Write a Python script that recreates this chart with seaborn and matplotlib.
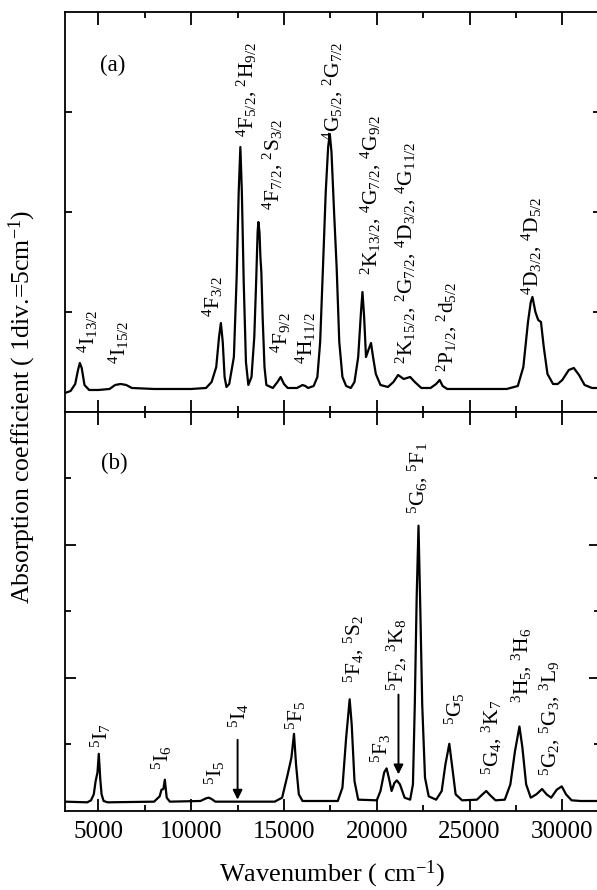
import matplotlib
matplotlib.use('Agg')
import matplotlib.pyplot as plt
import seaborn as sns
from matplotlib.ticker import MultipleLocator, FixedLocator

# spectrum (a): wavenumber (cm-1) and absorption (div.)
wn_a = [3200, 3500, 3750, 3900, 4000, 4100, 4250, 4500, 5000, 5600, 5900, 6200, 6500,
        6800, 8000, 10000, 10800, 11100, 11350, 11500, 11600, 11700, 11800, 11900,
        12050, 12300, 12450, 12560, 12650, 12730, 12830, 12950, 13080, 13250, 13400,
        13500, 13580, 13620, 13680, 13730, 13780, 13850, 13950, 14050, 14400, 14650,
        14820, 15000, 15200, 15700, 16000, 16150, 16300, 16600, 16800, 16950, 17100,
        17250, 17380, 17470, 17560, 17700, 17840, 17980, 18150, 18350, 18600, 18800,
        19000, 19150, 19230, 19320, 19420, 19550, 19690, 19800, 19950, 20200, 20600,
        20900, 21150, 21450, 21800, 22050, 22400, 22900, 23200, 23390, 23550, 23800,
        25000, 27000, 27600, 27900, 28150, 28300, 28390, 28550, 28700, 28850, 29000,
        29200, 29500, 29750, 30000, 30350, 30620, 30900, 31200, 31600, 32030]
abs_a = [0.19, 0.21, 0.28, 0.42, 0.49, 0.44, 0.27, 0.22, 0.22, 0.23, 0.27, 0.28, 0.27,
         0.24, 0.23, 0.23, 0.24, 0.30, 0.45, 0.75, 0.89, 0.70, 0.35, 0.25,
         0.28, 0.55, 1.35, 2.20, 2.65, 2.20, 1.30, 0.50, 0.27, 0.35, 0.75,
         1.30, 1.80, 1.90, 1.80, 1.55, 1.40, 0.95, 0.45, 0.27, 0.24, 0.30,
         0.35, 0.28, 0.24, 0.24, 0.27, 0.26, 0.24, 0.26, 0.35, 0.70, 1.44,
         2.20, 2.65, 2.78, 2.60, 2.00, 1.44, 0.70, 0.35, 0.26, 0.24, 0.30,
         0.55, 1.00, 1.20, 0.95, 0.55, 0.62, 0.69, 0.55, 0.38, 0.27, 0.25,
         0.30, 0.37, 0.33, 0.35, 0.30, 0.24, 0.24, 0.28, 0.32, 0.26, 0.23,
         0.23, 0.23, 0.26, 0.45, 0.90, 1.10, 1.15, 1.00, 0.92, 0.90, 0.65,
         0.38, 0.28, 0.28, 0.32, 0.42, 0.44, 0.37, 0.27, 0.24, 0.24]

# spectrum (b)
wn_b = [3200, 4400, 4600, 4750, 4850, 4950, 5020, 5100, 5170, 5280, 5500, 8000, 8300,
        8400, 8500, 8580, 8680, 8850, 10500, 10800, 10950, 11100, 11300, 14500, 14900,
        15200, 15400, 15540, 15650, 15800, 16000, 17900, 18150, 18350, 18540, 18650,
        18800, 19000, 20000, 20200, 20400, 20530, 20650, 20800, 20950, 21080, 21250,
        21500, 21800, 21950, 22050, 22150, 22250, 22350, 22450, 22600, 22800, 23200,
        23500, 23700, 23910, 24050, 24250, 24600, 25400, 25700, 25900, 26100, 26400,
        26900, 27200, 27450, 27690, 27850, 28050, 28300, 28600, 28910, 29150, 29400,
        29700, 29970, 30200, 30500, 31000, 32030]
abs_b = [0.14, 0.13, 0.16, 0.25, 0.45, 0.58, 0.86, 0.48, 0.25, 0.15, 0.13, 0.14, 0.22,
         0.32, 0.33, 0.47, 0.20, 0.14, 0.15, 0.19, 0.20, 0.18, 0.14, 0.14, 0.20,
         0.55, 0.80, 1.16, 0.70, 0.25, 0.15, 0.15, 0.35, 1.10, 1.68, 1.30,
         0.45, 0.17, 0.16, 0.30, 0.58, 0.64, 0.50, 0.30, 0.42, 0.46, 0.40,
         0.20, 0.17, 0.40, 1.60, 3.20, 4.29, 3.00, 1.60, 0.50, 0.22, 0.17,
         0.30, 0.70, 1.01, 0.70, 0.25, 0.16, 0.17, 0.25, 0.30, 0.24, 0.16,
         0.17, 0.40, 0.90, 1.27, 0.95, 0.40, 0.20, 0.25, 0.33, 0.25, 0.20,
         0.32, 0.37, 0.25, 0.16, 0.15, 0.15]

labels_a = [r"$^{4}$I$_{13/2}$", r"$^{4}$I$_{15/2}$", r"$^{4}$F$_{3/2}$",
            r"$^{4}$F$_{5/2}$, $^{2}$H$_{9/2}$", r"$^{4}$F$_{7/2}$, $^{2}$S$_{3/2}$",
            r"$^{4}$F$_{9/2}$", r"$^{4}$H$_{11/2}$", r"$^{4}$G$_{5/2}$, $^{2}$G$_{7/2}$",
            r"$^{2}$K$_{13/2}$, $^{4}$G$_{7/2}$, $^{4}$G$_{9/2}$",
            r"$^{2}$K$_{15/2}$, $^{2}$G$_{7/2}$, $^{4}$D$_{3/2}$, $^{4}$G$_{11/2}$",
            r"$^{2}$P$_{1/2}$, $^{2}$d$_{5/2}$", r"$^{4}$D$_{3/2}$, $^{4}$D$_{5/2}$"]
label_a_x = [4456, 6110, 11175, 13010, 14380, 14830, 16180, 17640, 19690, 21580, 23790, 28390]
label_a_y = [0.59, 0.475, 0.95, 2.75, 2.02, 0.59, 0.475, 2.72, 1.37, 0.475, 0.40, 1.165]

labels_b = [r"$^{5}$I$_{7}$", r"$^{5}$I$_{6}$", r"$^{5}$I$_{5}$", r"$^{5}$I$_{4}$",
            r"$^{5}$F$_{5}$", r"$^{5}$F$_{4}$, $^{5}$S$_{2}$", r"$^{5}$F$_{3}$",
            r"$^{5}$F$_{2}$, $^{3}$K$_{8}$", r"$^{5}$G$_{6}$, $^{5}$F$_{1}$",
            r"$^{5}$G$_{5}$", r"$^{5}$G$_{4}$, $^{3}$K$_{7}$", r"$^{3}$H$_{5}$, $^{3}$H$_{6}$",
            r"$^{5}$G$_{2}$, $^{5}$G$_{3}$, $^{3}$L$_{9}$"]
label_b_x = [5140, 8430, 11260, 12550, 15650, 18750, 20230, 21070, 22220, 24220, 26210, 27830, 29310]
label_b_y = [0.95, 0.62, 0.39, 1.25, 1.22, 1.93, 0.72, 1.80, 4.47, 1.30, 0.54, 1.62, 0.52]

# arrows in (b)
arrow_x = [12500, 21170]
arrow_top = [1.07, 1.75]
arrow_tip = [0.17, 0.55]

sns.set_style('ticks', {'axes.edgecolor': 'black', 'xtick.color': 'black',
                        'ytick.color': 'black', 'text.color': 'black',
                        'axes.labelcolor': 'black'})
plt.rcParams['font.family'] = ['Liberation Serif', 'DejaVu Serif']
plt.rcParams['mathtext.fontset'] = 'custom'
plt.rcParams['mathtext.rm'] = 'Liberation Serif'
plt.rcParams['mathtext.default'] = 'regular'

fig = plt.figure(figsize=(5.97, 8.90), dpi=100)
ax1 = fig.add_axes([0.1089, 0.5371, 0.8961, 0.4494])
ax2 = fig.add_axes([0.1089, 0.0888, 0.8961, 0.4483])

sns.lineplot(x=wn_a, y=abs_a, ax=ax1, color='black', lw=1.6, estimator=None)
sns.lineplot(x=wn_b, y=abs_b, ax=ax2, color='black', lw=1.6, estimator=None)

ax1.set_ylim(0, 4)
ax2.set_ylim(0, 6)
for ax in (ax1, ax2):
    ax.set_xlim(3200, 32030)
    for s in ax.spines.values():
        s.set_linewidth(1.3)
    ax.xaxis.set_major_locator(MultipleLocator(5000))
    ax.xaxis.set_minor_locator(MultipleLocator(2500))
    ax.tick_params(axis='x', which='both', direction='in', top=True, bottom=True, width=1.3)
    ax.tick_params(axis='x', which='major', length=9)
    ax.tick_params(axis='x', which='minor', length=4.5)
    ax.tick_params(axis='y', which='both', direction='in', left=True, right=True,
                   width=1.3, labelleft=False)
    ax.set_xlabel('')
    ax.set_ylabel('')

ax1.yaxis.set_major_locator(FixedLocator([1, 2, 3]))
ax1.tick_params(axis='y', which='major', length=5)
ax1.tick_params(axis='x', labelbottom=False)

ax2.yaxis.set_major_locator(FixedLocator([2, 4]))
ax2.yaxis.set_minor_locator(FixedLocator([1, 3, 5]))
ax2.tick_params(axis='y', which='major', length=8)
ax2.tick_params(axis='y', which='minor', length=4.5)
ax2.tick_params(axis='x', which='major', labelsize=18, pad=7)

for txt, x, y in zip(labels_a, label_a_x, label_a_y):
    ax1.text(x, y, txt, rotation=90, ha='center', va='bottom', fontsize=15.5)
for txt, x, y in zip(labels_b, label_b_x, label_b_y):
    ax2.text(x, y, txt, rotation=90, ha='center', va='bottom', fontsize=15.5)
for x, y0, y1 in zip(arrow_x, arrow_top, arrow_tip):
    ax2.annotate('', xy=(x, y1), xytext=(x, y0),
                 arrowprops=dict(arrowstyle='-|>', color='black', lw=1.4,
                                 mutation_scale=14, shrinkA=0, shrinkB=0))

ax1.text(5090, 3.47, '(a)', ha='left', va='center', fontsize=16.5)
ax2.text(5140, 5.23, '(b)', ha='left', va='center', fontsize=16.5)

fig.text(0.037, 0.543, r'Absorption coefficient ( 1div.=5cm$^{-1}$)',
         rotation=90, ha='center', va='center', fontsize=18.5)
fig.text(0.556, 0.018, r'Wavenumber ( cm$^{-1}$)', ha='center', va='center', fontsize=19)

fig.savefig('out.png', dpi=100)
